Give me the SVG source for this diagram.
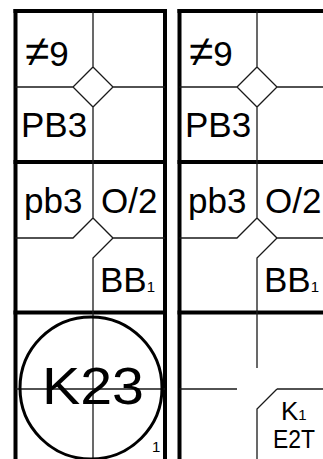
<svg xmlns="http://www.w3.org/2000/svg" width="323" height="459" viewBox="0 0 323 459">
<style>
.thick{stroke:#000;stroke-width:4;fill:none;stroke-linecap:square}
.thin{stroke:#1a1a1a;stroke-width:1.3;fill:none}
.t{font-family:"Liberation Sans",Arial,sans-serif;fill:#000;font-size:35px}
.s{font-size:15px;fill:#000}
.ne{font-size:44px}
</style>
<rect width="323" height="459" fill="#fff"/>
<g id="panel-left">
  <g id="left-borders">
    <line class="thick" x1="15.5" y1="11" x2="15.5" y2="470"/>
    <line class="thick" x1="165" y1="11" x2="165" y2="470"/>
    <line class="thick" x1="15.5" y1="11" x2="165" y2="11"/>
    <line class="thick" x1="15.5" y1="162" x2="165" y2="162"/>
    <line class="thick" x1="15.5" y1="312.5" x2="165" y2="312.5"/>
  </g>
  <g id="left-row1">
    <path class="thin" d="M93 11V67M93 107V162M15.5 87H73M113 87H165M93 67L113 87L93 107L73 87Z"/>
    <text class="t" x="25" y="66"><tspan class="ne">≠</tspan>9</text>
    <text class="t" x="21" y="137">PB3</text>
  </g>
  <g id="left-row2">
    <path class="thin" d="M93 162V218M15.5 238H73L93 218L113 238H165M113 238L93 258V312"/>
    <text class="t" x="24" y="213">pb3</text>
    <text class="t" x="101" y="213">O/2</text>
    <text class="t" x="100" y="292">BB<tspan class="s">1</tspan></text>
  </g>
  <g id="left-row3">
    <path class="thin" d="M93 312V459M15.5 389H165"/>
    <circle cx="91" cy="388" r="71" fill="none" stroke="#000" stroke-width="3"/>
    <text class="t" x="93" y="404" style="font-size:52px" text-anchor="middle" textLength="102" lengthAdjust="spacingAndGlyphs">K23</text>
    <text class="t s" x="152" y="452">1</text>
  </g>
</g>
<g id="panel-right">
  <g id="right-borders">
    <line class="thick" x1="179.5" y1="11" x2="179.5" y2="470"/>
    <line class="thick" x1="179.5" y1="11" x2="330" y2="11"/>
    <line class="thick" x1="179.5" y1="162" x2="330" y2="162"/>
    <line class="thick" x1="179.5" y1="312.5" x2="330" y2="312.5"/>
  </g>
  <g id="right-row1">
    <path class="thin" d="M257 11V67M257 107V162M179.5 87H237M277 87H323M257 67L277 87L257 107L237 87Z"/>
    <text class="t" x="189" y="66"><tspan class="ne">≠</tspan>9</text>
    <text class="t" x="185" y="137">PB3</text>
  </g>
  <g id="right-row2">
    <path class="thin" d="M257 162V218M179.5 238H237L257 218L277 238H323M277 238L257 258V312"/>
    <text class="t" x="188" y="213">pb3</text>
    <text class="t" x="265" y="213">O/2</text>
    <text class="t" x="264" y="292">BB<tspan class="s">1</tspan></text>
  </g>
  <g id="right-row3">
    <path class="thin" d="M257 312V368M179.5 389H237M277 389H323M277 389L257 409V459"/>
    <text class="t" x="281" y="420" style="font-size:26px">K<tspan class="s">1</tspan></text>
    <text class="t" x="294" y="448" style="font-size:25px" text-anchor="middle" textLength="42" lengthAdjust="spacingAndGlyphs">E2T</text>
  </g>
</g>
<g id="connectors"></g>
</svg>
